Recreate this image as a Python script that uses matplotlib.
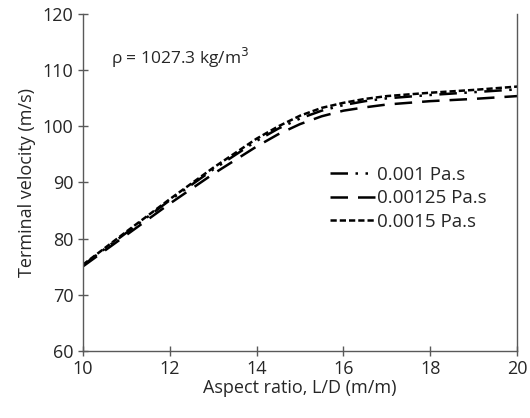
import numpy as np
import matplotlib.pyplot as plt

plt.rcParams['font.family'] = ['Open Sans', 'DejaVu Sans']

# ------------------------- data -------------------------
aspect = [10, 11, 12, 13, 14, 14.5, 15, 15.5, 16, 16.5, 17, 18, 19, 20]
v_0001 = [75.2, 81.0, 86.8, 92.3, 97.4, 99.6, 101.4, 102.8, 103.8, 104.5, 105.0, 105.6, 106.1, 106.6]
v_000125 = [75.0, 80.6, 86.2, 91.5, 96.4, 98.6, 100.4, 101.8, 102.8, 103.4, 103.9, 104.5, 104.9, 105.4]
v_00015 = [75.3, 81.2, 87.0, 92.6, 97.8, 100.0, 101.9, 103.3, 104.2, 104.9, 105.4, 106.0, 106.5, 107.1]
labels = ['0.001 Pa.s', '0.00125 Pa.s', '0.0015 Pa.s']
# ----------------------------------------------------------------------------

fig = plt.figure(figsize=(5.3, 4.18), dpi=100)
ax = fig.add_axes([0.156, 0.161, 0.82, 0.805])

ax.plot(aspect, v_0001, color='black', lw=1.8, linestyle=(0, (7, 3, 1, 3, 1, 3)), label=labels[0])
ax.plot(aspect, v_000125, color='black', lw=1.8, linestyle=(0, (7, 4)), label=labels[1])
ax.plot(aspect, v_00015, color='black', lw=1.8, linestyle=(0, (2.5, 1.2)), label=labels[2])

ax.set_xlim(10, 20)
ax.set_ylim(60, 120)
ax.set_xticks(np.arange(10, 21, 2))
ax.set_yticks(np.arange(60, 121, 10))

grey = '#595959'
txt = '#262626'
for s in ['left', 'bottom', 'right']:
    ax.spines[s].set_color(grey)
    ax.spines[s].set_linewidth(1.0)
ax.spines['top'].set_visible(False)
ax.tick_params(direction='inout', length=7, width=1.0, color=grey,
               labelsize=13, labelcolor=txt, pad=3)

ax.set_xlabel('Aspect ratio, L/D (m/m)', fontsize=13, color=txt, labelpad=1)
ax.set_ylabel('Terminal velocity (m/s)', fontsize=13, color=txt, labelpad=5)

ax.text(10.65, 112.2, r'ρ = 1027.3 kg/m$^3$', fontsize=12.5, color=txt, va='center')

ax.legend(loc='upper left', bbox_to_anchor=(0.53, 0.6), frameon=False,
          fontsize=13.5, handlelength=2.4, handletextpad=0.1, labelspacing=0.3,
          labelcolor=txt)

fig.savefig('out.png', dpi=100)
